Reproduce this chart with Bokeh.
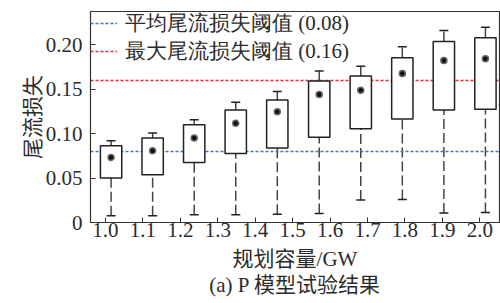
import numpy as np
from bokeh.plotting import figure
from bokeh.models import (ColumnDataSource, Whisker, TeeHead, FixedTicker,
                          CustomJSTickFormatter, Title, Range1d)
from bokeh.transform import dodge
from bokeh.core.properties import value
from bokeh.embed import file_html
from bokeh.resources import INLINE

# ---- data -------------------------------------------------------------
tick_values = [1.0, 1.1, 1.2, 1.3, 1.4, 1.5, 1.6, 1.7, 1.8, 1.9, 2.0]
box_pos = [1.0, 1.111, 1.222, 1.333, 1.444, 1.556, 1.667, 1.778, 1.889, 2.0]
lower = [0.0076, 0.0076, 0.0087, 0.0087, 0.0094, 0.0102, 0.0252, 0.0259, 0.0106, 0.0113]
q1    = [0.0500, 0.0538, 0.0677, 0.0778, 0.0839, 0.0959, 0.1057, 0.1166, 0.1267, 0.1274]
q3    = [0.0865, 0.0952, 0.1102, 0.1267, 0.1380, 0.1594, 0.1651, 0.1854, 0.2038, 0.2080]
upper = [0.0920, 0.1008, 0.1158, 0.1353, 0.1474, 0.1707, 0.1759, 0.1978, 0.2162, 0.2199]
mean  = [0.0733, 0.0809, 0.0952, 0.1117, 0.1248, 0.1440, 0.1489, 0.1677, 0.1824, 0.1843]
y_ticks = [0.0, 0.05, 0.10, 0.15, 0.20]
thr_avg = 0.08
thr_max = 0.16

FONT = "'Liberation Serif', 'Noto Sans CJK SC'"
TXT = "#2b2b2b"
BLUE = "#3b78c8"
RED = "#e62e36"

src = ColumnDataSource(dict(x=box_pos, lo=lower, q1=q1, q3=q3, hi=upper, mean=mean))
xs = dodge("x", 0.015)

p = figure(width=500, height=303, output_backend="svg", toolbar_location=None,
           x_range=Range1d(0.96, 2.0526), y_range=Range1d(0, 0.2376),
           min_border_left=90, min_border_right=1, min_border_top=11,
           min_border_bottom=81)
p.grid.visible = False
p.outline_line_color = "#333333"
p.outline_line_width = 1.2
p.background_fill_color = "white"
p.border_fill_color = "white"

# threshold lines
p.hspan(y=[thr_avg], line_color=BLUE, line_dash="3 2", line_width=1.3,
        legend_label=f"平均尾流损失阈值 ({thr_avg:.2f})")
p.hspan(y=[thr_max], line_color=RED, line_dash="3 2", line_width=1.3,
        legend_label=f"最大尾流损失阈值 ({thr_max:.2f})")
p.scatter(x=[], y=[], size=3, color=RED,
          legend_label=f"最大尾流损失阈值 ({thr_max:.2f})")

# whiskers
low_w = Whisker(source=src, base=xs, lower="lo", upper="q1", dimension="height",
                line_color="#444444", line_width=1.5, line_dash="10 4",
                lower_head=TeeHead(size=9, line_color="#222222", line_width=1.5),
                upper_head=None)
up_w = Whisker(source=src, base=xs, lower="q3", upper="hi", dimension="height",
               line_color="#444444", line_width=1.5, line_dash="10 4",
               upper_head=TeeHead(size=9, line_color="#222222", line_width=1.5),
               lower_head=None)
p.add_layout(low_w)
p.add_layout(up_w)

# boxes
p.vbar(x=xs, top="q3", bottom="q1", width=0.057, source=src,
       fill_color="white", line_color="#222222", line_width=1.5)

# means
p.scatter(x=xs, y="mean", source=src, size=6, fill_color="#111111",
          line_color="#666666", line_width=1.5)

# axes
for ax in (p.xaxis[0], p.yaxis[0]):
    ax.major_tick_in = 5
    ax.major_tick_out = 0
    ax.minor_tick_line_color = None
    ax.axis_line_color = "#333333"
    ax.major_tick_line_color = "#333333"
    ax.major_label_text_font = FONT
    ax.major_label_text_font_size = "21px"
    ax.major_label_text_color = TXT
    ax.axis_label_text_font = FONT
    ax.axis_label_text_font_size = "21px"
    ax.axis_label_text_font_style = "normal"
    ax.axis_label_text_color = TXT

p.xaxis.ticker = FixedTicker(ticks=tick_values)
p.xaxis.formatter = CustomJSTickFormatter(code="return tick.toFixed(1);")
p.xaxis.major_label_standoff = 0
p.xaxis.axis_label = "规划容量/GW"
p.xaxis.axis_label_standoff = 7

p.yaxis.ticker = FixedTicker(ticks=y_ticks)
p.yaxis.formatter = CustomJSTickFormatter(code="return tick == 0 ? '0' : tick.toFixed(2);")
p.yaxis.major_label_standoff = 8
p.yaxis.axis_label = "尾流损失"
p.yaxis.axis_label_standoff = -2

p.add_layout(Title(text="(a) P 模型试验结果", align="center", text_font=FONT,
                   text_font_size="21px", text_font_style="normal",
                   text_color=TXT, standoff=-6), "below")

# legend
lg = p.legend[0]
lg.location = (0, 157)
lg.margin = 0
lg.padding = 8
lg.spacing = 0
lg.label_height = 18
lg.glyph_height = 18
lg.glyph_width = 27
lg.label_standoff = 8
lg.border_line_color = None
lg.background_fill_alpha = 0
lg.label_text_font = "Liberation Serif"
lg.label_text_font_size = "21px"
lg.label_text_color = TXT

open("out.html", "w").write(file_html(p, INLINE))
